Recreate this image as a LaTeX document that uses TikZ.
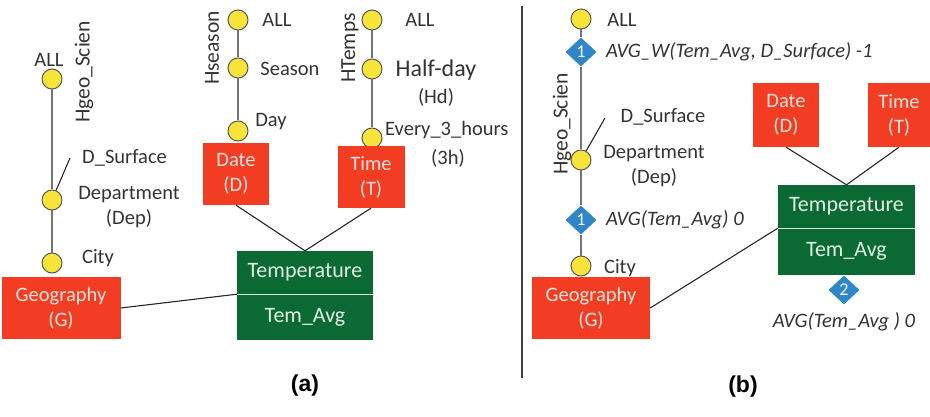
\documentclass[tikz,border=0pt]{standalone}
\usepackage{fontspec}
\setmainfont{Carlito}
\newfontfamily\capfont{Liberation Sans}
\usetikzlibrary{shapes.geometric}

\definecolor{dimred}{HTML}{F23D22}
\definecolor{dimtext}{HTML}{FCE4DE}
\definecolor{factgreen}{HTML}{0B6A34}
\definecolor{facttext}{HTML}{E2F0E4}
\definecolor{lvlyellow}{HTML}{F7E43B}
\definecolor{aggblue}{HTML}{2F86C8}

\begin{document}
\begin{tikzpicture}[x=1pt, y=-1pt,
  lvl/.style={circle, draw=black!65, fill=lvlyellow, line width=1pt, minimum size=20pt, inner sep=0pt},
  dim/.style={rectangle, fill=dimred, text=dimtext, align=center, inner sep=0pt,
    minimum width=66pt, minimum height=62pt, font=\fontsize{20.5}{25}\selectfont},
  fact/.style={rectangle, fill=factgreen, text=facttext, inner sep=0pt,
    minimum width=136pt, font=\fontsize{22}{25}\selectfont},
  agg/.style={diamond, fill=aggblue, text=white, inner sep=0pt,
    minimum width=31pt, minimum height=29pt, font=\fontsize{18}{20}\selectfont},
  lbl/.style={inner sep=0pt, text=black!80, align=center, font=\fontsize{20.5}{25}\selectfont},
  fun/.style={lbl, font=\fontsize{20.5}{25}\selectfont\itshape},
  vlbl/.style={lbl, rotate=90, font=\fontsize{21.5}{25}\selectfont},
  subcap/.style={inner sep=0pt, font=\capfont\bfseries\fontsize{23}{25}\selectfont},
  h/.style={draw=black!55, line width=1.8pt},
  e/.style={draw=black!85, line width=1.1pt}
]
\useasboundingbox (0,0) rectangle (930,417);

% --- (a): geography hierarchy ---
\node[lvl] (gAll)  at (52,79)  {};
\node[lvl] (gDep)  at (52,200) {};
\node[lvl] (gCity) at (52,263) {};
\node[lbl] (gAllL)  at (49,60)  {ALL};
\node[vlbl] (gH) at (84,72) {Hgeo\_Scien};
\node[lbl, anchor=west] (gSurf) at (82,158) {D\_Surface};
\node[lbl] (gDepL)  at (129,207) {Department\\(Dep)};
\node[lbl] (gCityL) at (98,258) {City};
\coordinate (gSurfEnd) at (70,158);
\node[dim, minimum width=119pt] (geoA) at (61,308) {Geography\\(G)};

\draw[h] (gAll)--(gDep)--(gCity);
\draw[e] (gDep)--(gSurfEnd);

% --- (a): date and time hierarchies ---
\node[lvl] (sAll) at (238,20)  {};
\node[lvl] (sSea) at (238,68)  {};
\node[lvl] (sDay) at (238,131) {};
\node[lbl] (sAllL) at (277,20)  {ALL};
\node[lbl] (sSeaL) at (290,69)  {Season};
\node[lbl] (sDayL) at (271,122) {Day};
\node[vlbl] (sH) at (212,48) {Hseason};
\node[dim] (dateA) at (236,174) {Date\\(D)};

\node[lvl] (tAll) at (372,20)  {};
\node[lvl] (tHd)  at (372,69)  {};
\node[lvl] (t3h)  at (372,138) {};
\node[lbl] (tAllL) at (420,20) {ALL};
\node[lbl, font=\fontsize{24}{26}\selectfont] (tHdL) at (436,70) {Half-day};
\node[lbl] (tHdS) at (436,97) {(Hd)};
\node[lbl, anchor=west] (t3hL) at (385,130) {Every\_3\_hours};
\node[lbl] (t3hS) at (448,158) {(3h)};
\node[vlbl] (tH) at (350,48) {HTemps};
\node[dim, minimum width=67pt] (timeA) at (371,177) {Time\\(T)};

\draw[h] (sAll)--(sSea)--(sDay);
\draw[h] (tAll)--(tHd)--(t3h);

% --- (a): fact ---
\node[fact, minimum height=43pt] (tempA) at (305,272.5) {Temperature};
\node[fact, minimum height=46pt] (avgA)  at (305,317)   {Tem\_Avg};
\draw[facttext, line width=1pt] (tempA.south west)--(tempA.south east);

\draw[e] (geoA.east)--(tempA.south west);
\draw[e] (dateA.south)--(tempA.north);
\draw[e] (timeA.south)--(tempA.north);

\node[subcap] (capA) at (305,386) {(a)};

% --- separator ---
\coordinate (sepTop) at (522,6);
\coordinate (sepBot) at (522,378);
\draw[black!75, line width=1.2pt] (sepTop)--(sepBot);

% --- (b): geography hierarchy with aggregations ---
\node[lvl] (bAll)  at (581,19)  {};
\node[agg] (bAgg1) at (581,52)  {1};
\node[lvl] (bDep)  at (581,160) {};
\node[agg] (bAgg0) at (581,220) {1};
\node[lvl] (bCity) at (581,266) {};
\node[lbl] (bAllL) at (622,20) {ALL};
\node[fun, anchor=west] (bAgg1L) at (606,52) {AVG\_W(Tem\_Avg, D\_Surface) -1};
\node[vlbl] (bH) at (562,124) {Hgeo\_Scien};
\node[lbl] (bSurf) at (663,117) {D\_Surface};
\node[lbl] (bDepL) at (654,166) {Department\\(Dep)};
\node[fun, anchor=west] (bAgg0L) at (606,220) {AVG(Tem\_Avg) 0};
\node[lbl] (bCityL) at (620,268) {City};
\coordinate (bSurfEnd) at (605,118);
\node[dim, minimum width=118pt] (geoB) at (591,308) {Geography\\(G)};

\draw[h] (bAll)--(bAgg1)--(bDep)--(bAgg0)--(bCity);
\draw[e] (bDep)--(bSurfEnd);

% --- (b): fact and dimensions ---
\node[dim, minimum height=64pt] (dateB) at (786,115) {Date\\(D)};
\node[dim, minimum width=62pt, minimum height=64pt] (timeB) at (899,115) {Time\\(T)};
\node[fact, minimum height=43pt, minimum width=137pt] (tempB) at (846.5,206.5) {Temperature};
\node[fact, minimum height=47pt, minimum width=137pt] (avgB)  at (846.5,251.5) {Tem\_Avg};
\draw[facttext, line width=1pt] (tempB.south west)--(tempB.south east);
\node[agg] (bAgg2) at (844,290) {2};
\node[fun] (bAgg2L) at (844,322) {AVG(Tem\_Avg ) 0};

\draw[e] (geoB.east)--(tempB.south west);
\draw[e] (dateB.south)--(tempB.north);
\draw[e] (timeB.south)--(tempB.north);

\node[subcap] (capB) at (743,387) {(b)};

\end{tikzpicture}
\end{document}
